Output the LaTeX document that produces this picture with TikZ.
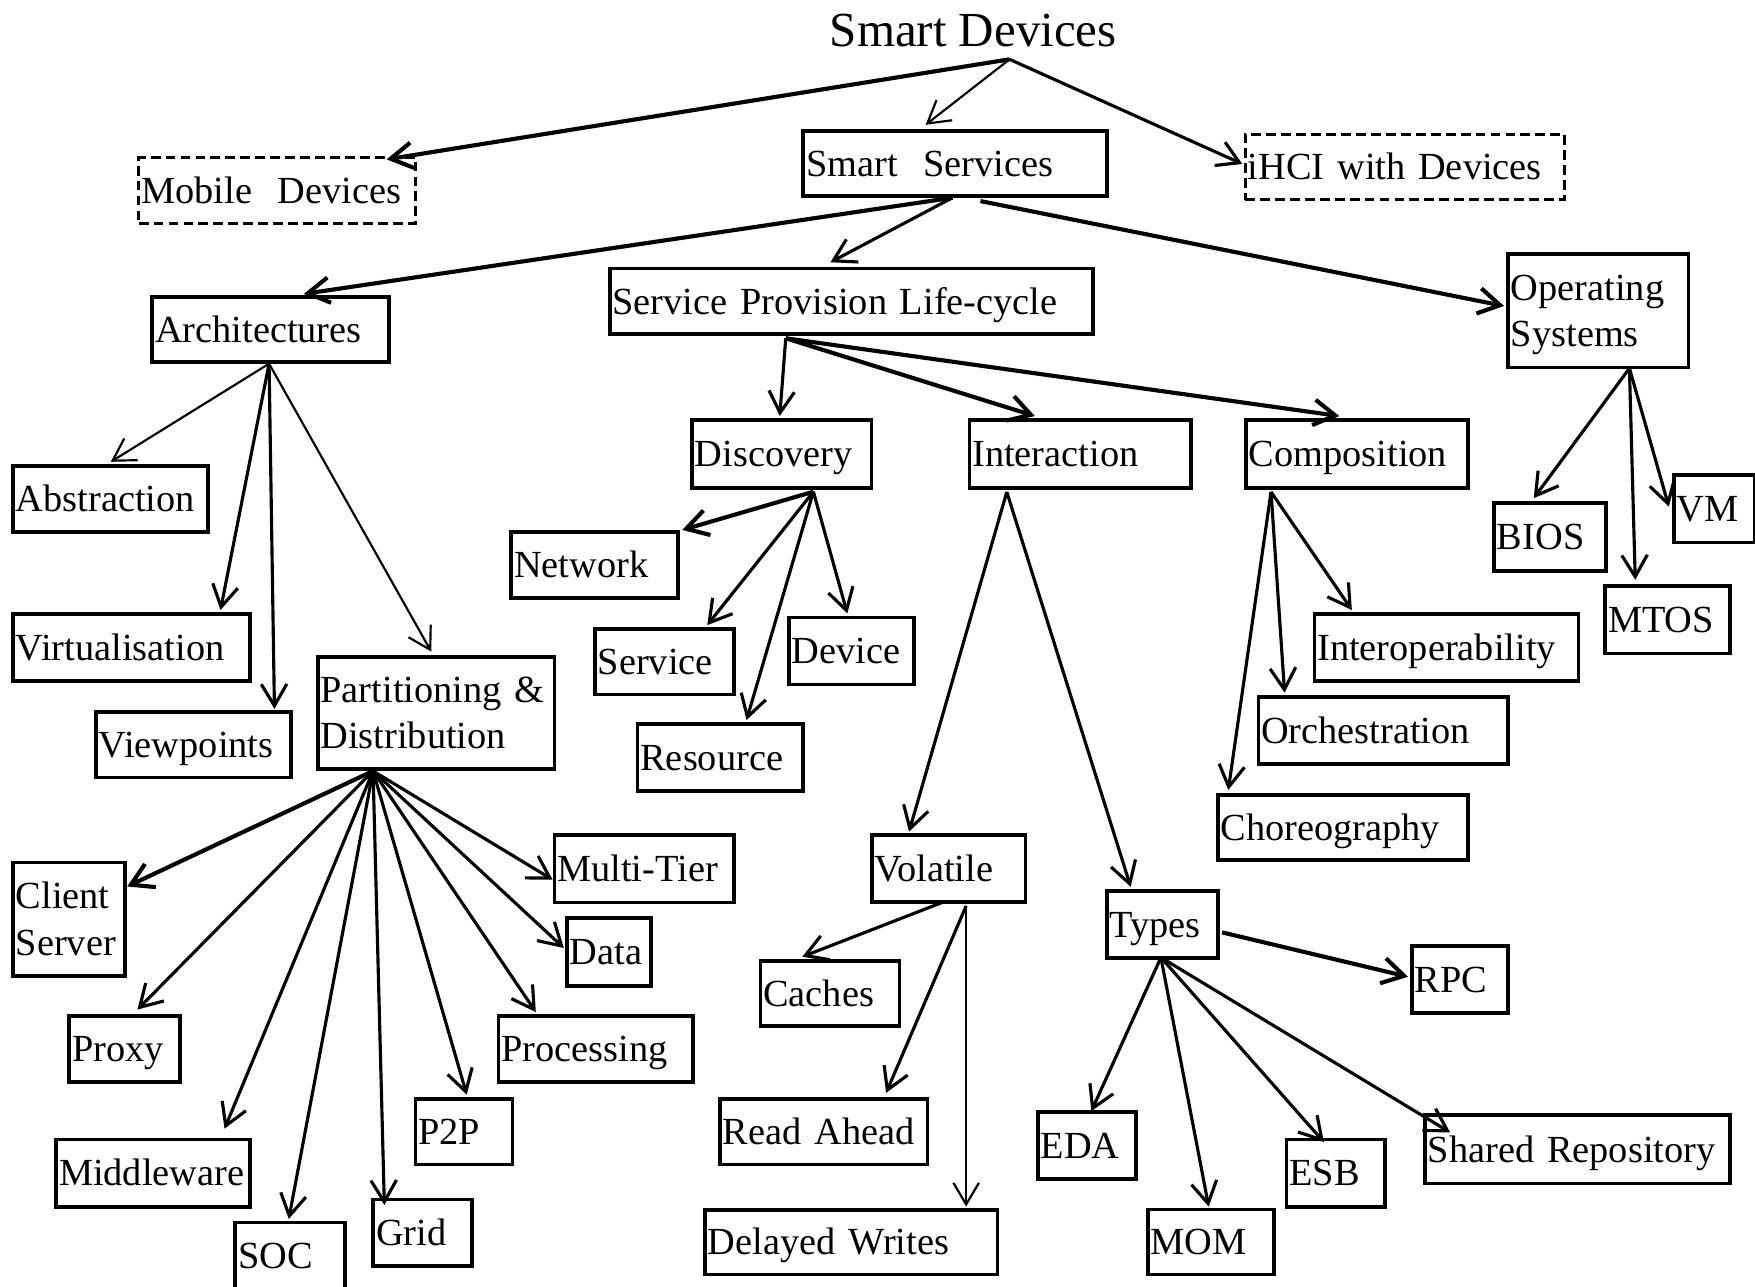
\documentclass[tikz,border=0pt]{standalone}
\usepackage{fontspec}
\setmainfont{Liberation Serif}
\usetikzlibrary{arrows.meta,calc}

\newcommand{\boxfont}{\fontsize{19.5pt}{23.6pt}\selectfont}
\newcommand{\titlefont}{\fontsize{24.9pt}{28pt}\selectfont}

\tikzset{
  % size of a box given in picture units (width, height)
  sz/.style 2 args={
    /utils/exec={\pgfmathsetmacro\bxw{#1*0.02}%
                 \pgfmathsetmacro\bxt{(#1-5)*0.02}%
                 \pgfmathsetmacro\bxh{#2*0.02}},
    minimum width/.expanded=\bxw cm,
    text width/.expanded=\bxt cm,
    minimum height/.expanded=\bxh cm},
  boxbase/.style={draw, line width=1.9pt, anchor=north west,
    inner xsep=0.05cm, inner ysep=0pt, align=left, font=\boxfont},
  one/.style={boxbase, text height=12.9pt, text depth=0pt},
  two/.style={boxbase, text height=12.9pt, text depth=23.6pt},
  dashbox/.style={one, line width=1.6pt, dash pattern=on 5pt off 2.6pt},
  tip/.style={-{Straight Barb[length=11pt,width=13pt]}},
  thk/.style={tip, line width=2.1pt},
  med/.style={tip, line width=1.6pt},
  thn/.style={tip, line width=1.1pt},
}

\begin{document}
\begin{tikzpicture}[x=0.02cm, y=-0.02cm, line join=miter]
\useasboundingbox (0,0) rectangle (1568,1149);
\clip (0,0) rectangle (1568,1149);

% ---- top level ----
\node[anchor=base west, inner sep=0pt, font=\titlefont] (sd) at (741,41.7) {Smart Devices};
\node[dashbox, sz={247.5}{58.6}] (md) at (122.5,139.4) {Mobile~~Devices};
\node[one, sz={271.5}{57.8}] (ss) at (716,115.5) {Smart~~Services};
\node[dashbox, sz={285}{58.7}] (ihci) at (1111,118.5) {iHCI with Devices};

% ---- second level ----
\node[one, sz={211.6}{58}] (arch) at (134.4,263.6) {Architectures};
\node[one, sz={431.7}{58.6}] (sp) at (543,238.3) {Service Provision Life-cycle};
\node[two, sz={161.2}{101.3}] (os) at (1345.8,225.4) {Operating\\Systems};

% ---- architectures ----
\node[one, sz={174}{59}] (abs) at (10,414.6) {Abstraction};
\node[one, sz={212}{60}] (virt) at (10,547) {Virtualisation};
\node[one, sz={174}{58.7}] (view) at (84.2,634.3) {Viewpoints};
\node[two, sz={211.5}{100.3}] (part) at (282.3,585.2) {Partitioning \&\\Distribution};

% ---- service provision life-cycle ----
\node[one, sz={160.3}{60.4}] (disc) at (616.7,373.6) {Discovery};
\node[one, sz={198.1}{60.5}] (inter) at (864.5,373.7) {Interaction};
\node[one, sz={198.1}{60.5}] (comp) at (1111.6,373.7) {Composition};

\node[one, sz={149}{59}] (net) at (455.2,473.5) {Network};
\node[one, sz={124.4}{58.3}] (svc) at (529.9,560.5) {Service};
\node[one, sz={112}{60}] (dev) at (703,550) {Device};
\node[one, sz={148}{60}] (res) at (568,645.3) {Resource};

\node[one, sz={235.7}{60}] (interop) at (1172.8,547) {Interoperability};
\node[one, sz={223}{60}] (orch) at (1122.7,620.9) {Orchestration};
\node[one, sz={223.3}{58}] (choreo) at (1086.4,708.8) {Choreography};

% ---- operating systems ----
\node[one, sz={100.2}{60.8}] (bios) at (1333.3,447.6) {BIOS};
\node[one, sz={72.3}{60.4}] (vm) at (1493.7,422.6) {VM};
\node[one, sz={111.3}{60.2}] (mtos) at (1432.5,522) {MTOS};

% ---- partitioning & distribution ----
\node[two, sz={100.3}{101.5}] (cs) at (10,769) {Client\\Server};
\node[one, sz={99.2}{59}] (proxy) at (60.2,906) {Proxy};
\node[one, sz={173}{60.2}] (mw) at (48.6,1016.4) {Middleware};
\node[one, sz={98.3}{59}] (soc) at (208.5,1090.6) {SOC};
\node[one, sz={88.3}{59.6}] (grid) at (331.9,1070) {Grid};
\node[one, sz={86.7}{58.4}] (p2p) at (369.5,980.4) {P2P};
\node[one, sz={174}{58.7}] (proc) at (443.7,906.2) {Processing};
\node[one, sz={75.2}{60.7}] (data) at (504.8,818.4) {Data};
\node[one, sz={160.5}{60.2}] (mt) at (493.8,744.5) {Multi-Tier};

% ---- interaction ----
\node[one, sz={137.4}{59.5}] (vol) at (777.2,744.5) {Volatile};
\node[one, sz={124.2}{58.4}] (cache) at (677.8,856.8) {Caches};
\node[one, sz={185.2}{58.4}] (ra) at (641.7,980.4) {Read Ahead};
\node[one, sz={261.4}{57.5}] (dw) at (628.2,1079.5) {Delayed Writes};

\node[one, sz={99.3}{59.8}] (types) at (987.2,794.3) {Types};
\node[one, sz={86.1}{59.6}] (rpc) at (1259.6,843.7) {RPC};
\node[one, sz={87.8}{60.2}] (eda) at (925.6,991.7) {EDA};
\node[one, sz={112.8}{58}] (mom) at (1023.9,1079) {MOM};
\node[one, sz={87.7}{60.2}] (esb) at (1147.8,1016.4) {ESB};
\node[one, sz={272.2}{61}] (shr) at (1271.6,994.7) {Shared Repository};

% ---- connector origins ----
\coordinate (sdh) at ($(sd.base west)+(161,11.3)$);
\coordinate (ssa) at ($(ss.south west)+(135,0)$);
\coordinate (ssb) at ($(ss.south west)+(160,3)$);
\coordinate (ah) at ($(arch.south west)+(106,0)$);
\coordinate (sph) at ($(sp.south west)+(159,2)$);
\coordinate (dh) at ($(disc.south west)+(110,2)$);
\coordinate (ih) at ($(inter.south west)+(35,2)$);
\coordinate (ch) at ($(comp.south west)+(24,2)$);
\coordinate (oh) at ($(os.south west)+(110,-1)$);
\coordinate (ph) at ($(part.south west)+(51,0)$);
\coordinate (va) at ($(vol.south west)+(67,-2)$);
\coordinate (vb) at ($(vol.south west)+(86,2)$);
\coordinate (ta) at ($(types.north east)+(2,38.7)$);
\coordinate (tb) at ($(types.south west)+(50,-2)$);

% ---- connectors ----
\draw[thk] (sdh) -- ($(md.north west)+(223,3)$);
\draw[thn] (sdh) -- ($(ss.north west)+(111,-4)$);
\draw[med] (sdh) -- ($(ihci.north west)+(-1,28)$);

\draw[thk] (ssa) -- ($(arch.north west)+(137,-1)$);
\draw[med] (ssa) -- ($(sp.north west)+(199,-4)$);
\draw[thk] (ssb) -- ($(os.north west)+(-2,48)$);

\draw[thn] (ah) -- ($(abs.north west)+(89,-2)$);
\draw[med] (ah) -- ($(virt.north west)+(187,-2)$);
\draw[med] (ah) -- ($(view.north west)+(161,-1)$);
\draw[thn] (ah) -- ($(part.north west)+(103,-3)$);

\draw[med] (sph) -- ($(disc.north west)+(80,-2)$);
\draw[thk] (sph) -- ($(inter.north west)+(60,-2)$);
\draw[thk] (sph) -- ($(comp.north west)+(85,-2)$);

\draw[thk] (dh) -- ($(net.north east)+(2,0)$);
\draw[med] (dh) -- ($(svc.north west)+(102,-2)$);
\draw[med] (dh) -- ($(res.north west)+(99,-2)$);
\draw[med] (dh) -- ($(dev.north west)+(54,-2)$);

\draw[med] (ih) -- ($(vol.north west)+(35,-1.5)$);
\draw[med] (ih) -- ($(types.north west)+(23,-2)$);

\draw[med] (ch) -- ($(interop.north west)+(35,-2)$);
\draw[med] (ch) -- ($(orch.north west)+(25,-2)$);
\draw[med] (ch) -- ($(choreo.north west)+(11,-3)$);

\draw[med] (oh) -- ($(bios.north west)+(37,-2.5)$);
\draw[med] (oh) -- ($(mtos.north west)+(28.5,-4)$);
\draw[med] (oh) -- ($(vm.north west)+(-2.7,30)$);

\draw[thk] (ph) -- ($(cs.north east)+(0,23)$);
\draw[med] (ph) -- ($(proxy.north west)+(62.6,-4)$);
\draw[med] (ph) -- ($(mw.north west)+(152,-8)$);
\draw[med] (ph) -- ($(soc.north west)+(49.5,-1.5)$);
\draw[med] (ph) -- ($(grid.north west)+(11.5,6.6)$);
\draw[med] (ph) -- ($(p2p.north west)+(47.5,-2.4)$);
\draw[med] (ph) -- ($(proc.north west)+(35,-2)$);
\draw[med] (ph) -- ($(data.north west)+(-1,28.6)$);
\draw[med] (ph) -- ($(mt.north west)+(0,41.5)$);

\draw[med] (va) -- ($(cache.north west)+(39,-2)$);
\draw[med] (vb) -- ($(ra.north west)+(150,-4)$);
\draw[thn] (vb) -- ($(dw.north west)+(235,-1.5)$);

\draw[thk] (ta) -- ($(rpc.north west)+(-1.6,29)$);
\draw[med] (tb) -- ($(eda.north west)+(49.5,1)$);
\draw[med] (tb) -- ($(mom.north west)+(56,-1)$);
\draw[med] (tb) -- ($(esb.north west)+(35,4)$);
\draw[med] (tb) -- ($(shr.north west)+(24,17)$);
\end{tikzpicture}
\end{document}
